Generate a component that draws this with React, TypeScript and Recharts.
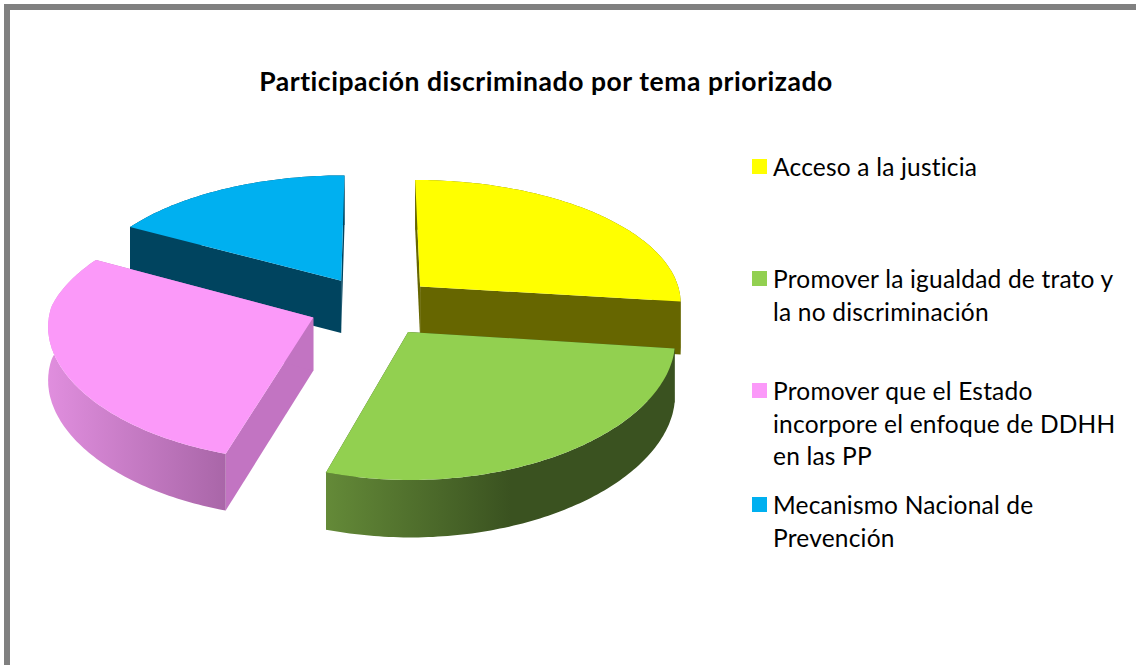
import { Legend, Pie, PieChart } from "recharts";

const categories = [
  "Acceso a la justicia",
  "Promover la igualdad de trato y la no discriminación",
  "Promover que el Estado incorpore el enfoque de DDHH en las PP",
  "Mecanismo Nacional de Prevención",
];
const shares = [27, 27.8, 28.2, 17];
const topColors = ["#ffff00", "#92d050", "#fb99f9", "#00b0f0"];
const wallFrom = ["#666600", "#648a38", "#e08ede", "#00445f"];
const wallTo = ["#666600", "#3a5220", "#a966a8", "#00445f"];
const cutColors = ["#666600", "#3a5220", "#c274c2", "#00445f"];
const legendTops = [151, 263, 375, 489];

// pie starts with the back-left slice so nearer slices paint over it
const drawOrder = [3, 0, 1, 2];
const pieData = drawOrder.map((i) => ({
  name: categories[i],
  value: shares[i],
  fill: topColors[i],
  index: i,
}));
const firstAngle = 90 + (shares[3] / 100) * 360;

const WIDTH = 1136;
const HEIGHT = 665;
const TILT = 0.47;
const DISTANCE = 2200;
const DEPTH = 53;
const EXPLODE = 64;

function Slice3D(props: any) {
  const { cx, cy, outerRadius, startAngle, endAngle, payload } = props;
  const i = payload.index;
  const rad = Math.PI / 180;
  const mid = ((startAngle + endAngle) / 2) * rad;
  const ox = EXPLODE * Math.cos(mid);
  const oy = -EXPLODE * Math.sin(mid);

  const project = (x: number, y: number, z: number) => {
    const s = DISTANCE / (DISTANCE - y);
    const soft = 1 + (s - 1) * 0.5; // height shrinks less than the floor does
    const sx = y < 0 ? s : soft; // the front of the pie barely widens
    return `${(cx + x * sx).toFixed(1)},${(cy + y * TILT * s - z * soft).toFixed(1)}`;
  };
  const rim = (deg: number, z: number) =>
    project(
      ox + outerRadius * Math.cos(deg * rad),
      oy - outerRadius * Math.sin(deg * rad),
      z,
    );

  const steps = Math.ceil(Math.abs(startAngle - endAngle));
  const arcAngles = Array.from(
    { length: steps + 1 },
    (_, k) => startAngle + ((endAngle - startAngle) * k) / steps,
  );
  const topArc = arcAngles.map((a) => rim(a, 0));
  const bottomArc = arcAngles.map((a) => rim(a, -DEPTH)).reverse();
  const apexTop = project(ox, oy, 0);
  const apexBottom = project(ox, oy, -DEPTH);
  const gradId = `wall-${i}`;

  return (
    <g>
      <defs>
        <linearGradient id={gradId} x1="0" y1="0" x2="1" y2="0">
          <stop offset="0" stopColor={wallFrom[i]} />
          <stop offset={i === 1 ? 0.53 : 1} stopColor={wallTo[i]} />
          <stop offset="1" stopColor={wallTo[i]} />
        </linearGradient>
      </defs>
      <polygon
        points={[apexTop, rim(startAngle, 0), rim(startAngle, -DEPTH), apexBottom].join(" ")}
        fill={cutColors[i]}
      />
      <polygon
        points={[apexTop, rim(endAngle, 0), rim(endAngle, -DEPTH), apexBottom].join(" ")}
        fill={cutColors[i]}
      />
      <polygon points={[...topArc, ...bottomArc].join(" ")} fill={`url(#${gradId})`} />
      <polygon points={[apexTop, ...topArc].join(" ")} fill={topColors[i]} />
    </g>
  );
}

function LegendBlock() {
  return (
    <div style={{ position: "relative", width: 366, height: 440 }}>
      {categories.map((label, i) => (
        <div
          key={label}
          style={{
            position: "absolute",
            left: 21,
            top: legendTops[i],
            width: 345,
            fontFamily: "Lato, sans-serif",
            fontSize: 24.5,
            letterSpacing: 0.2,
            lineHeight: "32.5px",
            color: "#000",
          }}
        >
          <span
            style={{
              position: "absolute",
              left: -21,
              top: 8,
              width: 15,
              height: 15,
              background: topColors[i],
            }}
          />
          {label}
        </div>
      ))}
    </div>
  );
}

export default function App() {
  return (
    <div style={{ position: "absolute", left: 0, top: 0, width: WIDTH, height: HEIGHT, background: "#fff" }}>
      <div
        style={{
          position: "absolute",
          left: 4,
          top: 4,
          right: 0,
          bottom: 0,
          borderTop: "6px solid #808080",
          borderLeft: "6px solid #808080",
        }}
      />
      <PieChart width={WIDTH} height={HEIGHT} style={{ position: "absolute", left: 0, top: 0 }}>
        <text
          x={546}
          y={91}
          textAnchor="middle"
          style={{ fontFamily: "Lato, sans-serif", fontSize: 26.5, fontWeight: 700, letterSpacing: 0.55, fill: "#000" }}
        >
          Participación discriminado por tema priorizado
        </text>
        <Pie
          data={pieData}
          dataKey="value"
          nameKey="name"
          cx={368}
          cy={301}
          outerRadius={263}
          startAngle={firstAngle}
          endAngle={firstAngle - 360}
          stroke="none"
          label={false}
          labelLine={false}
          isAnimationActive={false}
          shape={Slice3D}
        />
        <Legend
          content={<LegendBlock />}
          wrapperStyle={{ position: "absolute", left: 752, top: 0, width: 366 }}
        />
      </PieChart>
    </div>
  );
}
